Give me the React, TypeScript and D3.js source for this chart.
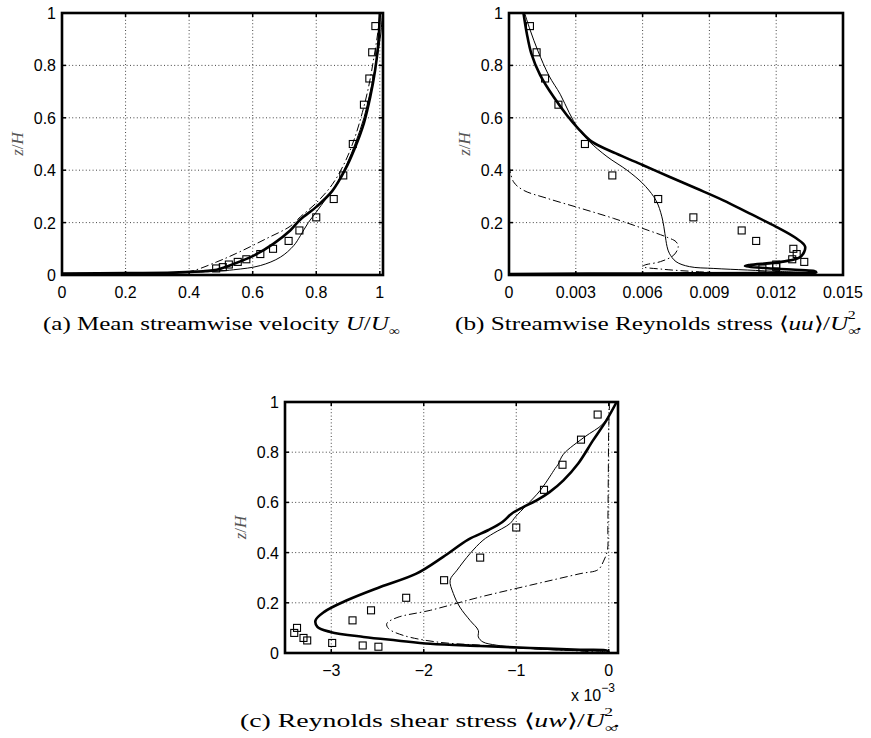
import React, { useEffect, useRef } from 'react';
import * as d3 from 'd3';

type Pt = [number, number];

// measurement heights z/H (squares), shared by all three panels
const zExp = [0.95, 0.85, 0.75, 0.65, 0.5, 0.38, 0.29, 0.22, 0.17, 0.13, 0.1, 0.08, 0.06, 0.05, 0.04, 0.03, 0.025];

// (a) mean streamwise velocity U/Uinf
const uExp = [0.986, 0.976, 0.967, 0.95, 0.915, 0.885, 0.855, 0.8, 0.747, 0.713, 0.664, 0.624, 0.58, 0.553, 0.525, 0.506, 0.485];
const uThick: Pt[] = [[0, 0.006], [0.2, 0.007], [0.35, 0.009], [0.403, 0.012], [0.45, 0.015], [0.487, 0.02], [0.54, 0.042], [0.603, 0.074], [0.666, 0.12], [0.718, 0.17], [0.75, 0.212], [0.8, 0.26], [0.85, 0.32], [0.89, 0.4], [0.92, 0.48], [0.95, 0.58], [0.97, 0.68], [0.985, 0.78], [0.995, 0.88], [1.0, 1.0]];
const uThin: Pt[] = [[0, 0.005], [0.2, 0.006], [0.435, 0.011], [0.54, 0.02], [0.624, 0.036], [0.687, 0.068], [0.729, 0.112], [0.75, 0.15], [0.775, 0.2], [0.8, 0.24], [0.83, 0.29], [0.86, 0.34], [0.895, 0.42], [0.925, 0.51], [0.95, 0.6], [0.97, 0.7], [0.99, 0.82], [1.003, 0.92], [1.008, 1.0]];
const uDash: Pt[] = [[0, 0.006], [0.3, 0.008], [0.4, 0.013], [0.487, 0.05], [0.56, 0.089], [0.645, 0.14], [0.718, 0.186], [0.75, 0.222], [0.8, 0.275], [0.85, 0.345], [0.89, 0.43], [0.92, 0.52], [0.945, 0.62], [0.965, 0.72], [0.98, 0.82], [0.993, 0.92], [1.0, 1.0]];

// (b) streamwise Reynolds stress <uu>/Uinf^2
const uuExp = [0.00094, 0.00124, 0.00162, 0.00222, 0.00341, 0.00464, 0.0067, 0.00828, 0.01045, 0.0111, 0.01277, 0.01292, 0.01272, 0.01326, 0.012, 0.012, 0.01138];
const uuThick: Pt[] = [[0, 0.004], [0.006, 0.006], [0.012, 0.008], [0.0138, 0.01], [0.0137, 0.015], [0.0131, 0.019], [0.0116, 0.026], [0.0106, 0.034], [0.0108, 0.038], [0.0123, 0.051], [0.0131, 0.07], [0.0133, 0.108], [0.0129, 0.14], [0.012, 0.184], [0.0108, 0.235], [0.0096, 0.286], [0.0084, 0.331], [0.0072, 0.375], [0.006, 0.42], [0.0048, 0.464], [0.0037, 0.51], [0.0031, 0.56], [0.0026, 0.61], [0.002, 0.68], [0.0014, 0.763], [0.001, 0.846], [0.0008, 0.922], [0.00065, 1.0]];
const uuThin: Pt[] = [[0, 0.003], [0.005, 0.005], [0.01, 0.007], [0.0134, 0.009], [0.0122, 0.013], [0.0107, 0.019], [0.0092, 0.025], [0.0081, 0.032], [0.0075, 0.051], [0.0072, 0.083], [0.0071, 0.108], [0.007, 0.159], [0.0069, 0.21], [0.0067, 0.267], [0.0065, 0.299], [0.006, 0.35], [0.0053, 0.4], [0.0044, 0.452], [0.0036, 0.51], [0.0031, 0.56], [0.0027, 0.62], [0.0023, 0.69], [0.0018, 0.76], [0.0013, 0.855], [0.00095, 0.935], [0.0007, 1.0]];
const uuDash: Pt[] = [[0, 0.42], [0.0002, 0.356], [0.00064, 0.324], [0.0017, 0.293], [0.0032, 0.255], [0.0047, 0.216], [0.0062, 0.172], [0.0071, 0.144], [0.0075, 0.127], [0.0076, 0.108], [0.0074, 0.076], [0.0068, 0.051], [0.0061, 0.038], [0.006, 0.032], [0.0069, 0.022], [0.0084, 0.013], [0.0099, 0.006]];

// (c) Reynolds shear stress <uw>/Uinf^2, in units of 1e-3
const uwExp = [-0.12, -0.3, -0.5, -0.7, -1.0, -1.39, -1.78, -2.19, -2.57, -2.77, -3.37, -3.4, -3.3, -3.26, -2.99, -2.66, -2.49];
const uwThick: Pt[] = [[0.085, 1.0], [-0.025, 0.927], [-0.17, 0.847], [-0.33, 0.755], [-0.49, 0.688], [-0.64, 0.641], [-0.78, 0.608], [-0.92, 0.582], [-1.05, 0.555], [-1.15, 0.522], [-1.3, 0.49], [-1.52, 0.452], [-1.79, 0.383], [-2.08, 0.316], [-2.47, 0.263], [-2.83, 0.21], [-3.08, 0.163], [-3.17, 0.13], [-3.15, 0.104], [-3.01, 0.084], [-2.65, 0.064], [-2.29, 0.05], [-1.93, 0.037], [-1.39, 0.028], [-0.85, 0.02], [-0.31, 0.013], [-0.01, 0.008], [0, 0]];
const uwThin: Pt[] = [[0.085, 1.0], [-0.06, 0.914], [-0.26, 0.861], [-0.49, 0.792], [-0.55, 0.75], [-0.58, 0.735], [-0.64, 0.701], [-0.74, 0.648], [-0.89, 0.588], [-1.01, 0.542], [-1.07, 0.515], [-1.25, 0.476], [-1.36, 0.449], [-1.5, 0.396], [-1.64, 0.33], [-1.715, 0.29], [-1.68, 0.237], [-1.61, 0.183], [-1.5, 0.13], [-1.41, 0.09], [-1.41, 0.064], [-1.36, 0.044], [-1.21, 0.031], [-0.85, 0.018], [-0.49, 0.011], [-0.025, 0.004], [0, 0]];
const uwDash: Pt[] = [[0.01, 1.0], [0.0, 0.9], [-0.005, 0.7], [-0.01, 0.5], [-0.014, 0.41], [-0.06, 0.363], [-0.115, 0.332], [-0.31, 0.316], [-0.85, 0.27], [-1.39, 0.223], [-1.93, 0.17], [-2.29, 0.141], [-2.4, 0.117], [-2.38, 0.097], [-2.22, 0.07], [-1.86, 0.044], [-1.39, 0.031], [-0.85, 0.018], [-0.31, 0.008], [0, 0]];

const zTicks = [0, 0.2, 0.4, 0.6, 0.8, 1];
const aTicks = [0, 0.2, 0.4, 0.6, 0.8, 1];
const bTicks = [0, 0.003, 0.006, 0.009, 0.012, 0.015];
const cTicks = [-3, -2, -1, 0];

const sans = '"Liberation Sans", Arial, Helvetica, sans-serif';
const serif = '"Liberation Serif", "Times New Roman", serif';

function drawPanel(svg: any, p: any) {
  const x = d3.scaleLinear().domain(p.xDomain).range([p.left, p.right]);
  const y = d3.scaleLinear().domain([0, 1]).range([p.bottom, p.top]);
  const g = svg.append('g');

  // dotted grid
  g.selectAll('.gx')
    .data(p.xTicks.filter((t: number) => x(t) > p.left + 2 && x(t) < p.right - 2))
    .enter()
    .append('line')
    .attr('x1', (d: number) => x(d))
    .attr('x2', (d: number) => x(d))
    .attr('y1', p.top)
    .attr('y2', p.bottom)
    .attr('stroke', '#444')
    .attr('stroke-width', 1)
    .attr('stroke-dasharray', '1,2.4');
  g.selectAll('.gy')
    .data(zTicks.filter(t => y(t) > p.top + 2 && y(t) < p.bottom - 2))
    .enter()
    .append('line')
    .attr('x1', p.left)
    .attr('x2', p.right)
    .attr('y1', (d: number) => y(d))
    .attr('y2', (d: number) => y(d))
    .attr('stroke', '#444')
    .attr('stroke-width', 1)
    .attr('stroke-dasharray', '1,2.4');

  const line = d3
    .line<Pt>()
    .x(d => x(d[0]))
    .y(d => y(d[1]))
    .curve(d3.curveCatmullRom.alpha(0.5));

  g.append('path')
    .attr('d', line(p.dash))
    .attr('fill', 'none')
    .attr('stroke', '#000')
    .attr('stroke-width', 1)
    .attr('stroke-dasharray', '8,3,1.5,3');
  g.append('path')
    .attr('d', line(p.thin))
    .attr('fill', 'none')
    .attr('stroke', '#000')
    .attr('stroke-width', 1);
  g.append('path')
    .attr('d', line(p.thick))
    .attr('fill', 'none')
    .attr('stroke', '#000')
    .attr('stroke-width', 2.6)
    .attr('stroke-linejoin', 'round');

  const s = 7;
  g.selectAll('.sq')
    .data(p.exp.map((v: number, i: number) => [v, zExp[i]]))
    .enter()
    .append('rect')
    .attr('x', (d: Pt) => x(d[0]) - s / 2)
    .attr('y', (d: Pt) => y(d[1]) - s / 2)
    .attr('width', s)
    .attr('height', s)
    .attr('fill', 'none')
    .attr('stroke', '#000')
    .attr('stroke-width', 1.1);

  // inward ticks on all four sides
  const tl = 4;
  p.xTicks.forEach((t: number) => {
    g.append('line').attr('x1', x(t)).attr('x2', x(t)).attr('y1', p.bottom).attr('y2', p.bottom - tl).attr('stroke', '#000').attr('stroke-width', 1.5);
    g.append('line').attr('x1', x(t)).attr('x2', x(t)).attr('y1', p.top).attr('y2', p.top + tl).attr('stroke', '#000').attr('stroke-width', 1.5);
  });
  zTicks.forEach(t => {
    g.append('line').attr('x1', p.left).attr('x2', p.left + tl).attr('y1', y(t)).attr('y2', y(t)).attr('stroke', '#000').attr('stroke-width', 1.5);
    g.append('line').attr('x1', p.right).attr('x2', p.right - tl).attr('y1', y(t)).attr('y2', y(t)).attr('stroke', '#000').attr('stroke-width', 1.5);
  });

  g.append('rect')
    .attr('x', p.left)
    .attr('y', p.top)
    .attr('width', p.right - p.left)
    .attr('height', p.bottom - p.top)
    .attr('fill', 'none')
    .attr('stroke', '#000')
    .attr('stroke-width', 2.6);

  // tick labels
  g.selectAll('.xl')
    .data(p.xTicks)
    .enter()
    .append('text')
    .attr('x', (d: number) => x(d))
    .attr('y', p.bottom + 23)
    .attr('text-anchor', 'middle')
    .attr('font-family', sans)
    .attr('font-size', 16)
    .text((d: number) => p.xFormat(d));
  g.selectAll('.yl')
    .data(zTicks)
    .enter()
    .append('text')
    .attr('x', p.left - 6)
    .attr('y', (d: number) => y(d) + 6)
    .attr('text-anchor', 'end')
    .attr('font-family', sans)
    .attr('font-size', 16)
    .text((d: number) => String(d));

  // z/H label
  const yl = g
    .append('text')
    .attr('transform', `translate(${p.left - 39},${(p.top + p.bottom) / 2}) rotate(-90)`)
    .attr('text-anchor', 'middle')
    .attr('font-family', serif)
    .attr('font-style', 'italic')
    .attr('font-size', 17)
    .attr('fill', '#555');
  yl.append('tspan').text('z');
  yl.append('tspan').attr('font-style', 'normal').text('/');
  yl.append('tspan').text('H');
}

function caption(svg: any, x0: number, x1: number, yb: number, parts: any[]) {
  const t = svg
    .append('text')
    .attr('x', x0)
    .attr('y', yb)
    .attr('font-family', serif)
    .attr('font-size', 19)
    .attr('textLength', x1 - x0)
    .attr('lengthAdjust', 'spacingAndGlyphs');
  parts.forEach(pt => {
    const ts = t.append('tspan').text(pt.t);
    if (pt.i) ts.attr('font-style', 'italic');
    if (pt.size) ts.attr('font-size', pt.size);
    if (pt.dx) ts.attr('dx', pt.dx);
    if (pt.dy) ts.attr('dy', pt.dy);
  });
}

export default function App() {
  const ref = useRef<SVGSVGElement>(null);

  useEffect(() => {
    const svg = d3.select(ref.current);
    svg.selectAll('*').remove();

    drawPanel(svg, {
      left: 62, right: 383, top: 13, bottom: 275,
      xDomain: [0, 1.01], xTicks: aTicks, xFormat: (d: number) => String(d),
      exp: uExp, thick: uThick, thin: uThin, dash: uDash,
    });
    drawPanel(svg, {
      left: 509, right: 843, top: 13, bottom: 275,
      xDomain: [0, 0.015], xTicks: bTicks, xFormat: (d: number) => (d === 0 ? '0' : d3.format('.3f')(d)),
      exp: uuExp, thick: uuThick, thin: uuThin, dash: uuDash,
    });
    drawPanel(svg, {
      left: 285, right: 618, top: 402, bottom: 653,
      xDomain: [-3.5, 0.1], xTicks: cTicks, xFormat: (d: number) => (d < 0 ? '\u2212' + Math.abs(d) : String(d)),
      exp: uwExp, thick: uwThick, thin: uwThin, dash: uwDash,
    });

    // exponent for panel (c)
    const ex = svg.append('text').attr('x', 571).attr('y', 701).attr('font-family', sans).attr('font-size', 16);
    ex.append('tspan').text('x 10');
    ex.append('tspan').attr('font-size', 12).attr('dy', -9).text('\u22123');

    caption(svg, 43, 400, 330, [
      { t: '(a) Mean streamwise velocity ' },
      { t: 'U', i: true },
      { t: '/' },
      { t: 'U', i: true },
      { t: '\u221e', size: 12, dy: 5 },
    ]);
    caption(svg, 455, 862, 330, [
      { t: '(b) Streamwise Reynolds stress \u27e8' },
      { t: 'uu', i: true },
      { t: '\u27e9/' },
      { t: 'U', i: true },
      { t: '\u221e', size: 12, dy: 5 },
      { t: '2', size: 12, dx: -9, dy: -16 },
      { t: '.', dy: 11 },
    ]);
    caption(svg, 240, 620, 727, [
      { t: '(c) Reynolds shear stress \u27e8' },
      { t: 'uw', i: true },
      { t: '\u27e9/' },
      { t: 'U', i: true },
      { t: '\u221e', size: 12, dy: 5 },
      { t: '2', size: 12, dx: -9, dy: -16 },
      { t: '.', dy: 11 },
    ]);
  }, []);

  return (
    <svg
      ref={ref}
      width={871}
      height={738}
      style={{ position: 'absolute', left: 0, top: 0, background: '#fff' }}
    />
  );
}
